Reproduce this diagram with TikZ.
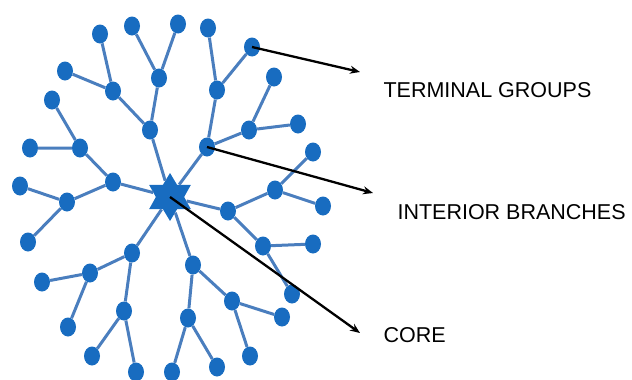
\documentclass[tikz,border=0pt]{standalone}
\usepackage{fontspec}
\setmainfont{Liberation Sans}
\usetikzlibrary{shapes.geometric,arrows.meta}
\definecolor{dotblue}{RGB}{24,108,192}
\definecolor{bondblue}{RGB}{74,126,190}
\begin{document}
\begin{tikzpicture}[x=1pt,y=-1pt,
  dot/.style={ellipse,fill=dotblue,minimum width=16pt,minimum height=19pt,inner sep=0pt},
  bond/.style={draw=bondblue,line width=3pt},
  pointer/.style={line width=2.3pt,-{Stealth[length=10pt,width=8pt]}},
  tag/.style={anchor=west,font=\fontsize{21.5}{25}\selectfont}]
\useasboundingbox (0,0) rectangle (632,380);
% core
\node[star,star points=6,star point ratio=1.7,minimum size=48pt,inner sep=0pt,fill=dotblue] (core) at (170,197) {};
% interior branches
\node[dot] (a) at (150,130) {};
\node[dot] (a1) at (113,91) {};
\node[dot] (a2) at (159,78) {};
\node[dot] (b) at (207,147) {};
\node[dot] (b1) at (217,90) {};
\node[dot] (b2) at (249,130) {};
\node[dot] (c) at (113,182) {};
\node[dot] (c1) at (80,148) {};
\node[dot] (c2) at (67,202) {};
\node[dot] (d) at (228,211) {};
\node[dot] (d1) at (275,190) {};
\node[dot] (d2) at (263,246) {};
\node[dot] (e) at (132,253) {};
\node[dot] (e1) at (90,273) {};
\node[dot] (e2) at (124,311) {};
\node[dot] (f) at (193,265) {};
\node[dot] (f1) at (188,318) {};
\node[dot] (f2) at (232,301) {};
% terminal groups
\node[dot] (a11) at (65,71) {};
\node[dot] (a12) at (100,34) {};
\node[dot] (a21) at (132,26) {};
\node[dot] (a22) at (178,24) {};
\node[dot] (b11) at (208,28) {};
\node[dot] (b12) at (252,47) {};
\node[dot] (b21) at (274,77) {};
\node[dot] (b22) at (298,124) {};
\node[dot] (c11) at (52,100) {};
\node[dot] (c12) at (30,148) {};
\node[dot] (c21) at (20,186) {};
\node[dot] (c22) at (28,242) {};
\node[dot] (d11) at (313,152) {};
\node[dot] (d12) at (323,206) {};
\node[dot] (d21) at (313,244) {};
\node[dot] (d22) at (292,294) {};
\node[dot] (e11) at (42,282) {};
\node[dot] (e12) at (68,327) {};
\node[dot] (e21) at (92,356) {};
\node[dot] (e22) at (136,372) {};
\node[dot] (f11) at (172,372) {};
\node[dot] (f12) at (217,367) {};
\node[dot] (f21) at (282,317) {};
\node[dot] (f22) at (250,356) {};
% bonds
\draw[bond] (core) -- (a) (core) -- (b) (core) -- (c) (core) -- (d) (core) -- (e) (core) -- (f);
\draw[bond] (a) -- (a1) (a) -- (a2) (a1) -- (a11) (a1) -- (a12) (a2) -- (a21) (a2) -- (a22);
\draw[bond] (b) -- (b1) (b) -- (b2) (b1) -- (b11) (b1) -- (b12) (b2) -- (b21) (b2) -- (b22);
\draw[bond] (c) -- (c1) (c) -- (c2) (c1) -- (c11) (c1) -- (c12) (c2) -- (c21) (c2) -- (c22);
\draw[bond] (d) -- (d1) (d) -- (d2) (d1) -- (d11) (d1) -- (d12) (d2) -- (d21) (d2) -- (d22);
\draw[bond] (e) -- (e1) (e) -- (e2) (e1) -- (e11) (e1) -- (e12) (e2) -- (e21) (e2) -- (e22);
\draw[bond] (f) -- (f1) (f) -- (f2) (f1) -- (f11) (f1) -- (f12) (f2) -- (f21) (f2) -- (f22);
% labels
\coordinate (p1) at (360,72);
\coordinate (p2) at (373,193);
\coordinate (p3) at (360,333);
\node[tag] (terminal) at (380,90) {TERMINAL GROUPS};
\node[tag] (interior) at (394,212) {INTERIOR BRANCHES};
\node[tag] (corelabel) at (380,335) {CORE};
\draw[pointer] (b12.center) -- (p1);
\draw[pointer] (b.center) -- (p2);
\draw[pointer] (core.center) -- (p3);
\end{tikzpicture}
\end{document}
